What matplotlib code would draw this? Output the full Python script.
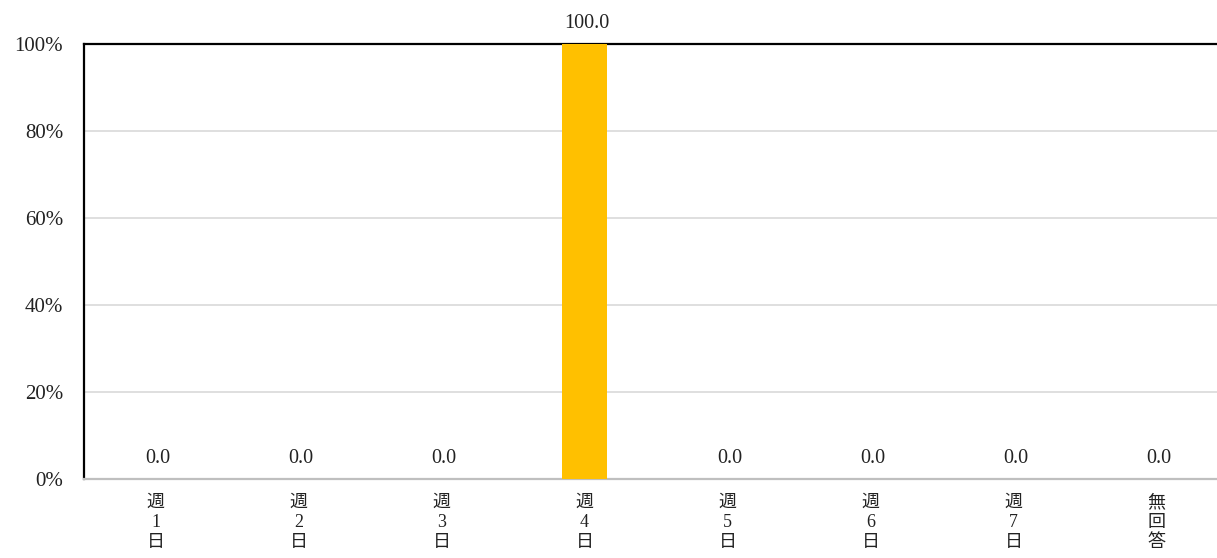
import matplotlib
matplotlib.use("Agg")
import matplotlib.pyplot as plt

# 回答データ
categories = ['週1日', '週2日', '週3日', '週4日', '週5日', '週6日', '週7日', '無回答']
values = [0.0, 0.0, 0.0, 100.0, 0.0, 0.0, 0.0, 0.0]
yticks = [0, 20, 40, 60, 80, 100]

plt.rcParams['font.family'] = ['Liberation Serif', 'Noto Sans CJK JP']

fig = plt.figure(figsize=(12.17, 5.58), dpi=100)
ax = fig.add_axes([84 / 1217, 1 - 479 / 558, 1144 / 1217, 435 / 558])

x = list(range(len(categories)))
ax.bar(x, values, width=0.31, color='#ffc000', zorder=3)

# 値ラベル
for xi, v in zip(x, values):
    ax.annotate(f'{v:.1f}', (xi, v), xytext=(2, 8), textcoords='offset points',
                ha='center', va='bottom', fontsize=14.5, color='#222222')

ax.set_xlim(-0.5, len(categories) - 0.5)
ax.set_ylim(0, 100)
ax.set_yticks(yticks)
ax.set_yticklabels([f'{t}%' for t in yticks], fontsize=15, color='#222222')
ax.set_xticks(x)
ax.set_xticklabels(['\n'.join(c) for c in categories], fontsize=13, linespacing=1.22,
                   color='#222222')
ax.tick_params(axis='y', length=0, pad=15)
ax.tick_params(axis='x', length=0, pad=11)

ax.grid(axis='y', color='#d9d9d9', linewidth=1.2, zorder=0)
ax.spines['left'].set_color('black')
ax.spines['left'].set_linewidth(1.6)
ax.spines['top'].set_color('black')
ax.spines['top'].set_linewidth(1.6)
ax.spines['bottom'].set_color('#bfbfbf')
ax.spines['bottom'].set_linewidth(1.6)
ax.spines['right'].set_visible(False)

fig.savefig('out.png', dpi=100)
